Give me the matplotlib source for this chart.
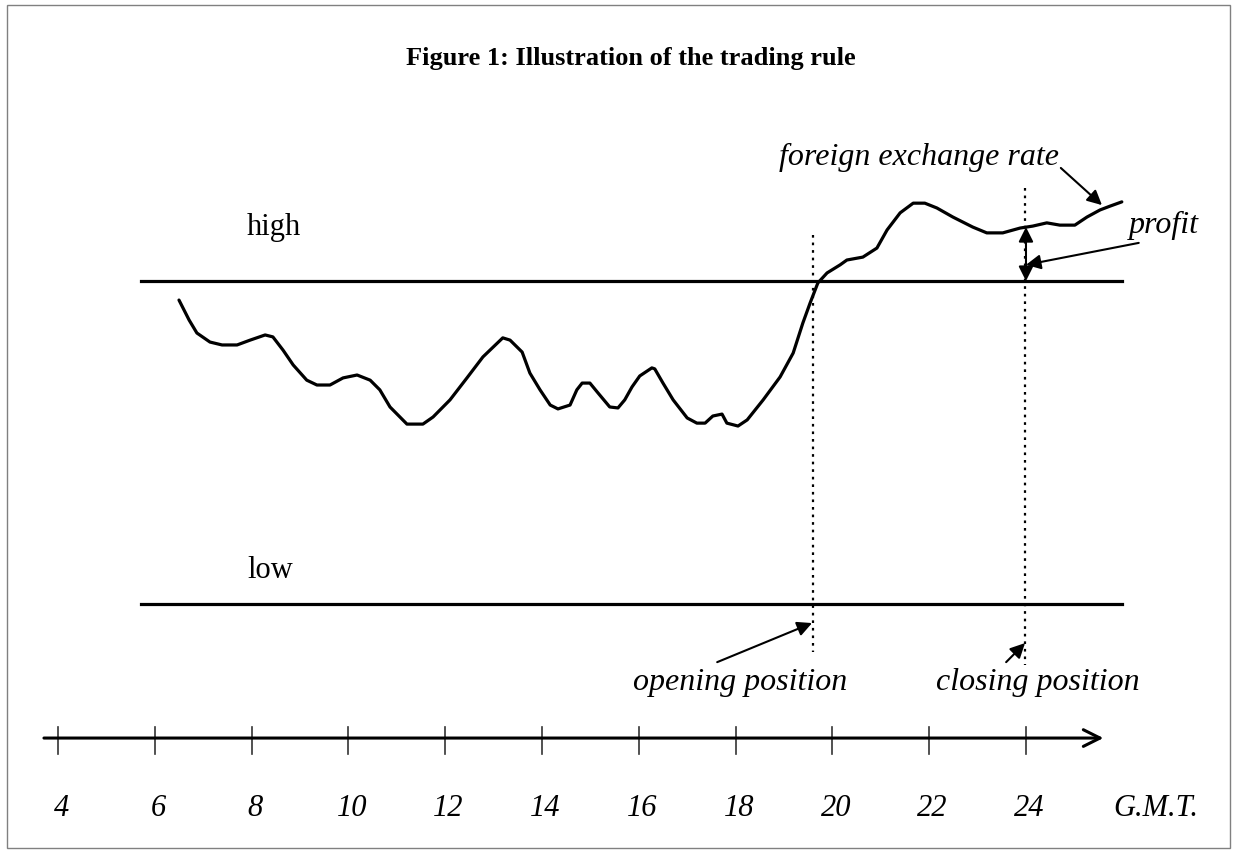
import matplotlib.pyplot as plt
from matplotlib.patches import Rectangle

# time of day (hours, GMT) and exchange rate, scaled so that low = 0 and high = 1
hours = [6.50, 6.71, 6.87, 7.14, 7.39, 7.70, 7.97, 8.28, 8.44, 8.65, 8.86, 9.14, 9.35, 9.62,
         9.89, 10.18, 10.45, 10.65, 10.86, 11.21, 11.54, 11.75, 12.10, 12.45, 12.78, 13.19,
         13.34, 13.59, 13.75, 13.96, 14.17, 14.33, 14.58, 14.72, 14.83, 14.99, 15.16, 15.40,
         15.57, 15.71, 15.86, 16.02, 16.27, 16.33, 16.50, 16.71, 17.00, 17.20, 17.37, 17.53,
         17.72, 17.82, 18.05, 18.24, 18.57, 18.92, 19.19, 19.39, 19.54, 19.70, 19.89, 20.16,
         20.30, 20.63, 20.92, 21.13, 21.40, 21.67, 21.91, 22.16, 22.49, 22.90, 23.19, 23.52,
         23.88, 24.14, 24.43, 24.70, 25.01, 25.26, 25.53, 25.74, 25.98]
rate = [0.941, 0.879, 0.839, 0.811, 0.802, 0.802, 0.817, 0.833, 0.827, 0.786, 0.740, 0.693,
        0.678, 0.678, 0.700, 0.709, 0.693, 0.663, 0.610, 0.557, 0.557, 0.579, 0.632, 0.700,
        0.765, 0.824, 0.817, 0.780, 0.715, 0.663, 0.616, 0.604, 0.616, 0.663, 0.684, 0.684,
        0.653, 0.610, 0.607, 0.632, 0.672, 0.706, 0.731, 0.728, 0.684, 0.632, 0.576, 0.560,
        0.560, 0.582, 0.588, 0.560, 0.551, 0.570, 0.632, 0.703, 0.777, 0.870, 0.932, 0.994,
        1.025, 1.050, 1.065, 1.074, 1.102, 1.158, 1.211, 1.241, 1.241, 1.226, 1.198, 1.167,
        1.149, 1.149, 1.164, 1.170, 1.180, 1.173, 1.173, 1.198, 1.220, 1.232, 1.245]

high_level = 1.0
low_level = 0.0
band_start = 5.71
band_end = 25.98
open_time = 19.60
close_time = 23.98
tick_hours = [4, 6, 8, 10, 12, 14, 16, 18, 20, 22, 24]
tick_labels = ['4', '6', '8', '10', '12', '14', '16', '18', '20', '22', '24']

plt.rcParams['font.family'] = 'Liberation Serif'

fig = plt.figure(figsize=(12.34, 8.5), dpi=100)
ax = fig.add_axes([0, 0, 1, 1])
ax.set_xlim(2.802, 28.298)
ax.set_ylim(-0.7616, 1.870)
ax.axis('off')

# frame around the whole figure
fig.patches.append(Rectangle((7 / 1234, 2 / 850), 1223 / 1234, 843 / 850, transform=fig.transFigure,
                             fill=False, edgecolor='#808080', lw=1.0))

fig.text(631 / 1234, 1 - 58 / 850, 'Figure 1: Illustration of the trading rule',
         ha='center', va='center', fontsize=19, fontweight='bold')

# high / low band
ax.plot([band_start, band_end], [high_level, high_level], color='black', lw=2.3)
ax.plot([band_start, band_end], [low_level, low_level], color='black', lw=2.3)
fig.text(247 / 1234, 1 - 235 / 850, 'high', ha='left', va='baseline', fontsize=22)
fig.text(247 / 1234, 1 - 578 / 850, 'low', ha='left', va='baseline', fontsize=22)

# exchange rate path
ax.plot(hours, rate, color='black', lw=2.3, solid_capstyle='round', solid_joinstyle='round')

# opening / closing markers
ax.plot([open_time, open_time], [1.142, -0.149], color='black', lw=1.6, linestyle=(0, (1.2, 2.2)))
ax.plot([close_time, close_time], [1.288, -0.189], color='black', lw=1.6, linestyle=(0, (1.2, 2.2)))

arrow = dict(arrowstyle='-|>', color='black', lw=1.5, mutation_scale=22, shrinkA=0, shrinkB=0)
ax.annotate('', xy=(19.58, -0.059), xytext=(17.62, -0.180), arrowprops=arrow)
ax.annotate('', xy=(23.98, -0.121), xytext=(23.59, -0.180), arrowprops=arrow)
ax.annotate('', xy=(25.57, 1.235), xytext=(24.72, 1.350), arrowprops=arrow)
ax.annotate('', xy=(24.0, 1.050), xytext=(26.33, 1.118), arrowprops=arrow)
ax.annotate('', xy=(24.0, high_level), xytext=(24.0, 1.167),
            arrowprops=dict(arrowstyle='<|-|>', color='black', lw=1.5, mutation_scale=22,
                            shrinkA=0, shrinkB=0))

fig.text(1059 / 1234, 1 - 165 / 850, 'foreign exchange rate', ha='right', va='baseline',
         fontsize=23, style='italic')
fig.text(1129 / 1234, 1 - 233 / 850, 'profit', ha='left', va='baseline', fontsize=23, style='italic')
fig.text(740 / 1234, 1 - 690 / 850, 'opening position', ha='center', va='baseline',
         fontsize=23, style='italic')
fig.text(1038 / 1234, 1 - 690 / 850, 'closing position', ha='center', va='baseline',
         fontsize=23, style='italic')

# time axis
ax.annotate('', xy=(25.60, -0.415), xytext=(3.71, -0.415),
            arrowprops=dict(arrowstyle='->', color='black', lw=2.2, mutation_scale=30,
                            shrinkA=0, shrinkB=0))
for h, lab in zip(tick_hours, tick_labels):
    ax.plot([h, h], [-0.381, -0.464], color='#333333', lw=1.2)
    ax.text(h + 0.07, -0.655, lab, ha='center', va='baseline', fontsize=22, style='italic')
ax.text(1156 / 48.4 + 2.802, -0.655, 'G.M.T.', ha='center', va='baseline', fontsize=22, style='italic')

plt.savefig('out.png', dpi=100)
